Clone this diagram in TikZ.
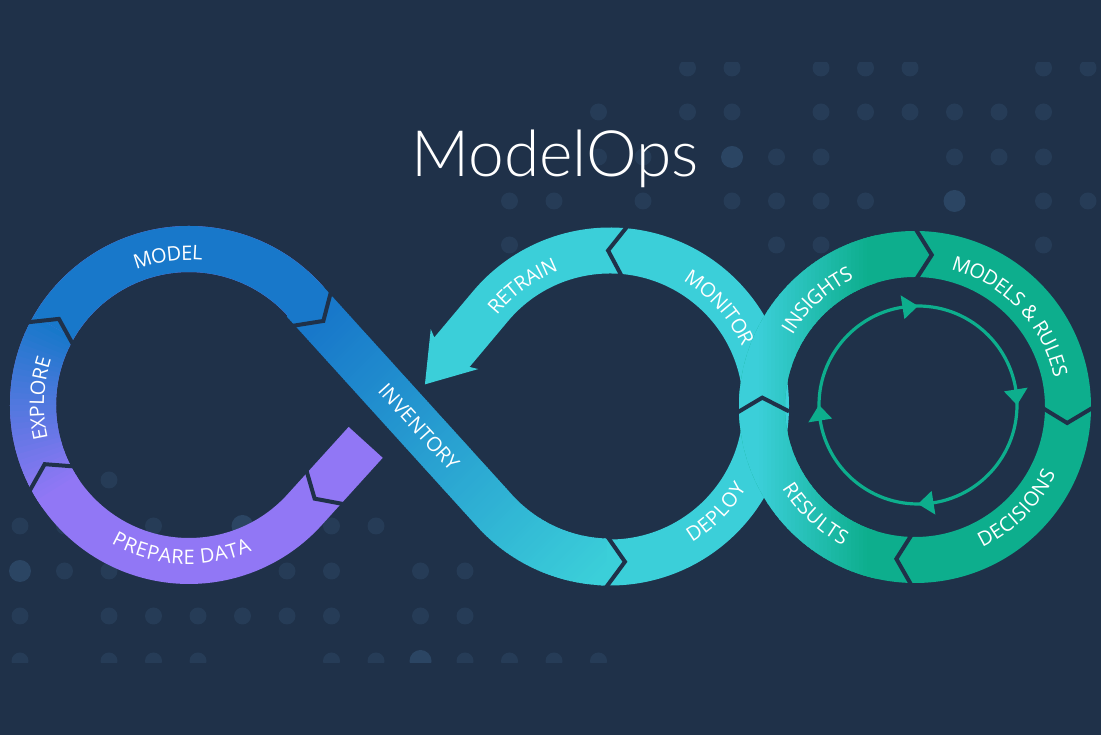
\documentclass[tikz,border=0pt]{standalone}
\usepackage{fontspec}
\newfontfamily\lblfam{Open Sans}
\IfFontExistsTF{Lato Light}{\newfontfamily\ttlfam{Lato Light}}{\newfontfamily\ttlfam{Lato}}
\usetikzlibrary{calc, decorations.text}

\definecolor{bgc}{HTML}{1F3149}
\definecolor{dotc}{HTML}{263C57}
\definecolor{dotb}{HTML}{2B4563}
\definecolor{blu}{HTML}{1878CA}
\definecolor{purp}{HTML}{9177F5}
\definecolor{cyn}{HTML}{3BCFD9}
\definecolor{grn}{HTML}{0DAE8D}

\tikzset{
  lbl/.style={text=white, font=\lblfam\fontsize{20}{24}\selectfont, inner sep=0pt},
  arclbl/.style={decorate, decoration={text along path, text align=center, raise=-7pt,
      text={|\lblfam\fontsize{20}{24}\selectfont\color{white}|#1}}},
  gap/.style={draw=bgc, line width=4pt},
  ttl/.style={text=white, font=\ttlfam\fontsize{64}{72}\selectfont, inner sep=0pt}
}

\begin{document}
\begin{tikzpicture}[x=1pt, y=1pt]
    \useasboundingbox (0,0) rectangle (1101,735);
    \fill[bgc] (0,0) rectangle (1101,735);
    % ---- centres ----
    \coordinate (lp) at (189,330);
    \coordinate (rp) at (610,328.5);
    \coordinate (gp) at (915,328);
    \coordinate (ip) at (918,330);
    \coordinate (mid) at (399.5,329.3);
    \coordinate (t1) at ($(lp)+(42.2:156)$);
    \coordinate (t3) at ($(lp)+(317.8:156)$);
    \coordinate (pb) at ($(rp)+(140:156)$);
    \coordinate (bc) at ($(pb)+(230:60)$);
    \coordinate (tip) at ($(bc)+(230:42)$);
    % ---- dots ----
    \begin{scope}
        \clip (0,72) rectangle (1101,672);
        \foreach \yy/\ks in {68/{15,16,18,19,20,23,24}, 112/{13,15,16,18,19,20,21,22,23},
                157/{13,14,17,18,21,22,23}, 201/{11,12,14,16,17,18,19,23,24}, 245/{11,17,18,23},
                480/{2}, 526/{0,1,3,7,8}, 571/{1,2,6,7,9,10}, 616/{0,2,3,4,5,6,7,9,10},
                661/{0,2,3,4,7,8,10,11,12,13}}
            \foreach \k in \ks
                \fill[dotc] (20+44.5*\k,735-\yy) circle[radius=8.5];
        \foreach \k/\yy in {16/157,21/201,5/526,0/571,9/661}
            \fill[dotb] (20+44.5*\k,735-\yy) circle[radius=11];
    \end{scope}
    % ---- left loop ----
    \begin{scope}
        \clip ($(lp)+(41:179)$) arc[start angle=41, end angle=317.8, radius=179]
            -- ++(47.8:91) -- ++(137.8:46) -- ++(227.8:91)
            arc[start angle=317.8, end angle=41, radius=133] -- cycle;
        \fill[purp] (0,100) rectangle (450,560);
        \fill[blu] (lp) -- ($(lp)+(150:300)$) -- ($(lp)+(95:300)$) -- ($(lp)+(40:300)$) -- cycle;
        \foreach \a in {150,152,...,212} {
            \pgfmathtruncatemacro\mixv{(212-\a)/0.62}
            \fill[blu!\mixv!purp] (lp) -- ($(lp)+(\a:300)$) -- ($(lp)+(\a+2.6:300)$) -- cycle;
        }
    \end{scope}
    % ---- right loop and retrain arrow ----
    \fill[cyn] ($(rp)+(266:179)$) arc[start angle=266, end angle=500, radius=179]
        -- ($(bc)+(140:23)$) -- ($(bc)+(140:31)+(50:4)$) -- (tip)
        -- ($(bc)+(320:31)+(50:4)$) -- ($(bc)+(320:23)$)
        -- ($(rp)+(140:133)$) arc[start angle=140, end angle=-94, radius=133] -- cycle;
    % ---- inventory diagonal ----
    \begin{scope}
        \clip ($(lp)+(42.2:179)$) -- ++(312.2:283.7)
            arc[start angle=222.2, end angle=268.5, radius=133]
            -- ($(rp)+(268.5:179)$) arc[start angle=268.5, end angle=222.2, radius=179]
            -- ++(132.2:283.7) -- cycle;
        \foreach \sv in {-140,-136,...,484} {
            \pgfmathtruncatemacro\mixv{max(0,min(100,(\sv+95)/5.3))}
            \fill[cyn!\mixv!blu] (\sv+140,140) -- (\sv+145,140) -- (\sv+465,460) -- (\sv+460,460) -- cycle;
        }
    \end{scope}
    % ---- green ring ----
    \begin{scope}[even odd rule]
        \clip (gp) circle[radius=176] (gp) circle[radius=130];
        \fill[grn] (730,140) rectangle (1100,520);
        \foreach \x in {735,739,...,871} {
            \pgfmathtruncatemacro\mixv{max(0,min(100,(\x-755)/1.1))}
            \fill[grn!\mixv!cyn] (\x,140) rectangle (\x+5,520);
        }
    \end{scope}
    % ---- chevron gaps ----
    \foreach \cp/\a/\b/\r in {lp/208.5/202.3/156, lp/153/146.5/156, rp/268.5/275.5/156,
            rp/84.3/90.7/156, gp/182/176.5/153, gp/90/83.7/153, gp/0/-6/153, gp/269/263/153}
        \draw[gap] ($(\cp)+(\a:\r+26)$) -- ($(\cp)+(\b:\r)$) -- ($(\cp)+(\a:\r-27)$);
    \draw[gap] ($(t1)+(312.2:11)+(42.2:26)$) -- ($(t1)+(312.2:28)$) -- ($(t1)+(312.2:11)+(222.2:26)$);
    \draw[gap] ($(t3)+(47.8:31)+(317.8:26)$) -- ($(t3)+(47.8:15)$) -- ($(t3)+(47.8:31)+(137.8:26)$);
    % ---- inner cycle ----
    \draw[grn, line width=3.2pt] (ip) circle[radius=99];
    \foreach \a in {90,0,270,180}
        \fill[grn] ($(ip)+(\a:99)$) -- ($(ip)+(\a+9:111)$) -- ($(ip)+(\a+9:87)$) -- cycle;
    % ---- labels ----
    \path[arclbl=MODEL] ($(lp)+(130:152)$) arc[start angle=130, end angle=66, radius=152];
    \path[arclbl=EXPLORE] ($(lp)+(215:152)$) arc[start angle=215, end angle=140, radius=152];
    \path[arclbl=PREPARE DATA] ($(lp)+(222:152)$) arc[start angle=222, end angle=312, radius=152];
    \path[arclbl=RETRAIN] ($(rp)+(165:152)$) arc[start angle=165, end angle=87, radius=152];
    \path[arclbl=MONITOR] ($(rp)+(80:152)$) arc[start angle=80, end angle=4, radius=152];
    \path[arclbl=DEPLOY] ($(rp)+(280:152)$) arc[start angle=280, end angle=350, radius=152];
    \path[arclbl=INSIGHTS] ($(gp)+(170:149)$) arc[start angle=170, end angle=95, radius=149];
    \path[arclbl={MODELS {\&} RULES}] ($(gp)+(96:149)$) arc[start angle=96, end angle=-9, radius=149];
    \path[arclbl=DECISIONS] ($(gp)+(275:149)$) arc[start angle=275, end angle=355, radius=149];
    \path[arclbl=RESULTS] ($(gp)+(190:149)$) arc[start angle=190, end angle=264, radius=149];
    \node[lbl, rotate=-47.8] (inv) at ($(mid)+(312.2:29)$) {INVENTORY};
    % ---- title ----
    \node[ttl, anchor=base] (title) at (555,558) {ModelOps};
\end{tikzpicture}
\end{document}
